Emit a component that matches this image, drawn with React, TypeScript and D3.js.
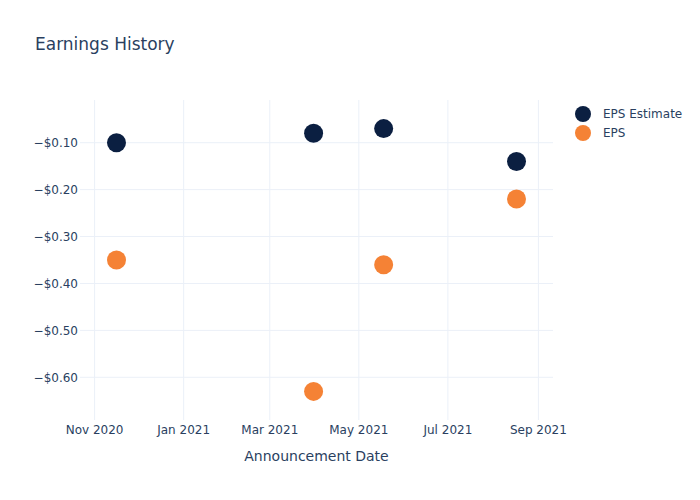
import React from 'react';
import * as d3 from 'd3';

// announcement dates and values
const dates = ['2020-11-16', '2021-03-31', '2021-05-18', '2021-08-17'];
const epsEstimate = [-0.1, -0.08, -0.07, -0.14];
const eps = [-0.35, -0.63, -0.36, -0.22];
const xTicks = ['2020-11-01', '2021-01-01', '2021-03-01', '2021-05-01', '2021-07-01', '2021-09-01'];
const yTicks = [-0.1, -0.2, -0.3, -0.4, -0.5, -0.6];

const series = [
  { name: 'EPS Estimate', values: epsEstimate, color: '#0b1f41' },
  { name: 'EPS', values: eps, color: '#f58235' },
];

const W = 700;
const H = 500;
const margin = { top: 100, right: 147, bottom: 80, left: 80 };
const font = '"DejaVu Sans", "Open Sans", Verdana, sans-serif';
const textColor = '#2a3f5f';
const gridColor = '#ebf0f8';

const parse = d3.timeParse('%Y-%m-%d');

const App: React.FC = () => {
  const x = d3.scaleTime()
    .domain([parse('2020-10-22')!, parse('2021-09-11')!])
    .range([margin.left, W - margin.right]);

  const y = d3.scaleLinear()
    .domain([-0.691, -0.009])
    .range([H - margin.bottom, margin.top]);

  const fmtDate = d3.timeFormat('%b %Y');
  const fmtY = (v: number) => '\u2212$' + Math.abs(v).toFixed(2);

  return (
    <svg width={W} height={H} style={{ display: 'block', position: 'absolute', left: 0, top: 0, background: '#fff' }} fontFamily={font}>
      <text x={35} y={50} fontSize={17} fill={textColor}>Earnings History</text>

      {xTicks.map(t => {
        const px = x(parse(t)!);
        return (
          <g key={t}>
            <line x1={px} x2={px} y1={margin.top} y2={H - margin.bottom} stroke={gridColor} strokeWidth={1} />
            <text x={px} y={H - margin.bottom + 5} dy="0.71em" textAnchor="middle" fontSize={12} fill={textColor}>
              {fmtDate(parse(t)!)}
            </text>
          </g>
        );
      })}

      {yTicks.map(t => (
        <g key={t}>
          <line x1={margin.left} x2={W - margin.right} y1={y(t)} y2={y(t)} stroke={gridColor} strokeWidth={1} />
          <text x={margin.left - 2} y={y(t)} dy="0.35em" textAnchor="end" fontSize={12} fill={textColor}>
            {fmtY(t)}
          </text>
        </g>
      ))}

      {series.map(s => (
        <g key={s.name}>
          {s.values.map((v, i) => (
            <circle key={i} cx={x(parse(dates[i])!)} cy={y(v)} r={9.5} fill={s.color} />
          ))}
        </g>
      ))}

      <text x={(margin.left + W - margin.right) / 2} y={461} textAnchor="middle" fontSize={14} fill={textColor}>
        Announcement Date
      </text>

      {series.map((s, i) => (
        <g key={s.name} transform={`translate(583,${114 + i * 19})`}>
          <circle r={8} fill={s.color} />
          <text x={20} dy="0.35em" fontSize={12} fill={textColor}>{s.name}</text>
        </g>
      ))}
    </svg>
  );
};

export default App;
